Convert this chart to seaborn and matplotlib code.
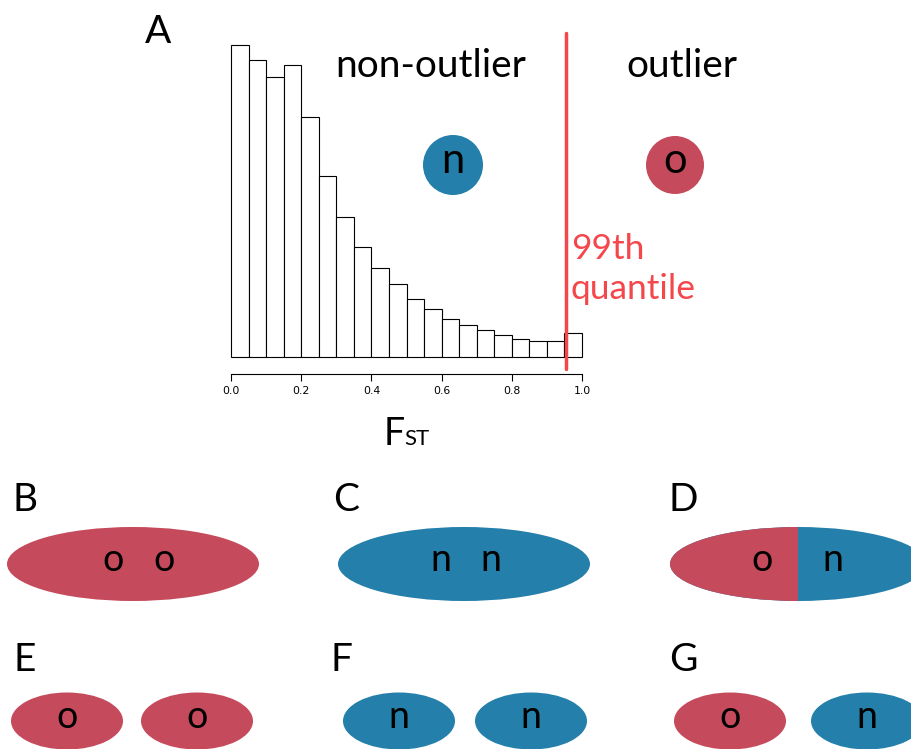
import numpy as np
import pandas as pd
import matplotlib
matplotlib.use("Agg")
import matplotlib.pyplot as plt
import seaborn as sns
from matplotlib.patches import Ellipse, Rectangle

# histogram of F_ST (bin width 0.05), heights
bin_centers = [0.025, 0.075, 0.125, 0.175, 0.225, 0.275, 0.325, 0.375, 0.425, 0.475,
               0.525, 0.575, 0.625, 0.675, 0.725, 0.775, 0.825, 0.875, 0.925, 0.975]
fst_counts = [935, 890, 840, 876, 718, 541, 420, 330, 267, 220,
              175, 143, 113, 96, 81, 67, 55, 48, 48, 72]
quantile_99 = 0.953
x_ticks = [0.0, 0.2, 0.4, 0.6, 0.8, 1.0]

RED = "#C54A5B"
BLUE = "#247FAA"
LINE_RED = "#F4474B"

sns.set_style("white")
plt.rcParams["font.family"] = ["Lato", "DejaVu Sans"]
plt.rcParams["text.color"] = "black"

fig = plt.figure(figsize=(9.11, 7.49), dpi=100)
W, H = 911, 749

# overlay axes in pixel coordinates for labels and shapes
ov = fig.add_axes([0, 0, 1, 1])
ov.set_xlim(0, W)
ov.set_ylim(H, 0)
ov.axis("off")
ov.set_zorder(3)

# histogram panel
ax = fig.add_axes([231 / W, 1 - 357 / H, 351 / W, (357 - 45) / H])
ax.patch.set_visible(False)
df = pd.DataFrame({"fst": bin_centers, "n": fst_counts})
sns.histplot(data=df, x="fst", weights="n", binwidth=0.05, binrange=(0, 1), ax=ax,
             color="white", edgecolor="black", linewidth=0.8, alpha=1)
for p in ax.patches:
    p.set_clip_on(False)
ax.set_xlim(0, 1)
ax.set_ylim(0, max(fst_counts))
for s in ["top", "right", "left"]:
    ax.spines[s].set_visible(False)
ax.spines["bottom"].set_position(("outward", 12))
ax.spines["bottom"].set_linewidth(0.8)
ax.spines["bottom"].set_color("black")
ax.set_yticks([])
ax.set_xticks(x_ticks)
ax.set_xticklabels([f"{t:.1f}" for t in x_ticks], fontsize=7.8,
                   family="DejaVu Sans", color="black")
ax.tick_params(axis="x", bottom=True, length=5, width=0.8, pad=4, color="black")
ax.set_xlabel("")
ax.set_ylabel("")
ax.axvline(quantile_99, ymin=-0.04, ymax=1.04, color=LINE_RED, lw=2.5, clip_on=False)

# panel A annotations
ov.text(158, 32, "A", fontsize=28, ha="center", va="center")
ov.text(431, 66, "non-outlier", fontsize=28, ha="center", va="center")
ov.text(682, 66, "outlier", fontsize=28, ha="center", va="center")
ov.text(571, 269, "99th\nquantile", fontsize=25.5, color=LINE_RED, ha="left",
        va="center", linespacing=1.3)
ov.text(384, 445, "F", fontsize=27, ha="left", va="baseline")
ov.text(404, 445, "ST", fontsize=16, ha="left", va="baseline")

ov.add_patch(Ellipse((453, 165), 60, 60, color=BLUE, lw=0))
ov.text(453, 161, "n", fontsize=30, ha="center", va="center")
ov.add_patch(Ellipse((675, 165), 58, 58, color=RED, lw=0))
ov.text(675, 161, "o", fontsize=30, ha="center", va="center")

# panel letters
for lab, x, y in [("B", 25, 500), ("C", 346, 500), ("D", 683, 500),
                  ("E", 25, 660), ("F", 342, 660), ("G", 683, 660)]:
    ov.text(x, y, lab, fontsize=28, ha="center", va="center")

# B, C: single large ellipses
ov.add_patch(Ellipse((133, 564), 252, 74, color=RED, lw=0))
ov.text(113, 560, "o", fontsize=27, ha="center", va="center")
ov.text(164, 560, "o", fontsize=27, ha="center", va="center")
ov.add_patch(Ellipse((464, 564), 252, 74, color=BLUE, lw=0))
ov.text(441, 560, "n", fontsize=27, ha="center", va="center")
ov.text(491, 560, "n", fontsize=27, ha="center", va="center")

# D: split ellipse
ov.add_patch(Ellipse((798, 564), 256, 74, color=BLUE, lw=0))
red_half = Ellipse((798, 564), 256, 74, color=RED, lw=0)
ov.add_patch(red_half)
clip = Rectangle((0, 0), 798, H, transform=ov.transData)
red_half.set_clip_path(clip)
ov.text(762, 560, "o", fontsize=27, ha="center", va="center")
ov.text(833, 560, "n", fontsize=27, ha="center", va="center")

# E, F, G: pairs of small ellipses
pairs = [((67, RED, "o"), (197, RED, "o")),
         ((399, BLUE, "n"), (531, BLUE, "n")),
         ((730, RED, "o"), (867, BLUE, "n"))]
for pair in pairs:
    for cx, col, lab in pair:
        ov.add_patch(Ellipse((cx, 721), 112, 57, color=col, lw=0))
        ov.text(cx, 717, lab, fontsize=27, ha="center", va="center")

fig.savefig("out.png", dpi=100)
